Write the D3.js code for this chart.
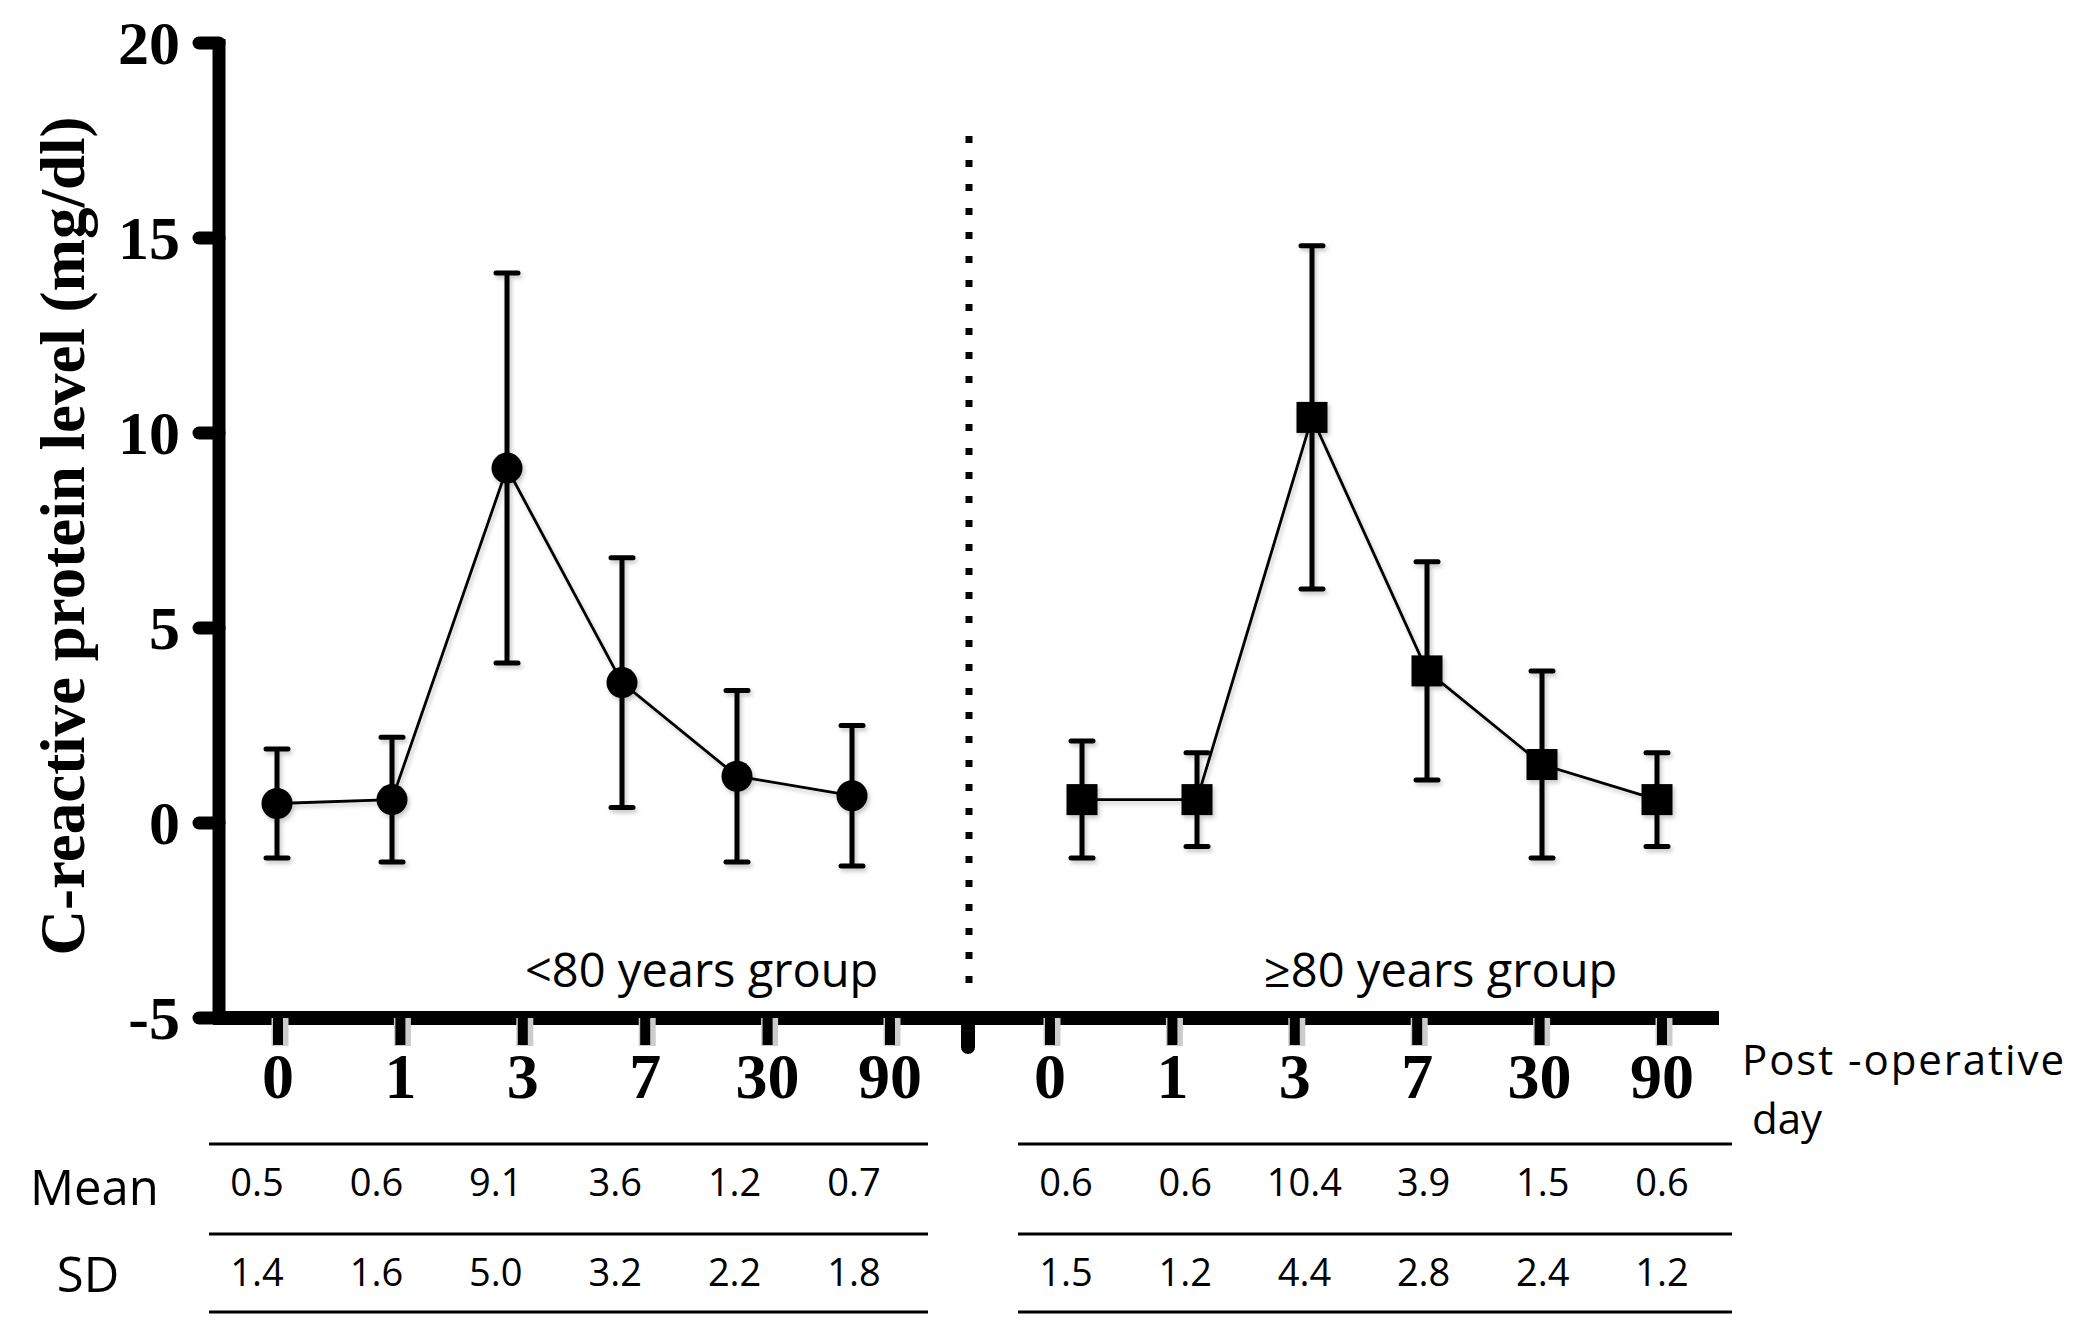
<!DOCTYPE html>
<html>
<head>
<meta charset="utf-8">
<script src="https://cdn.jsdelivr.net/npm/d3@7"></script>
<style>
  body { margin: 0; background: #fff; }
</style>
</head>
<body>
<div id="chart"></div>
<script>
// Dữ liệu
const days = ["0", "1", "3", "7", "30", "90"];
const meanUnder80 = [0.5, 0.6, 9.1, 3.6, 1.2, 0.7];
const sdUnder80 = [1.4, 1.6, 5.0, 3.2, 2.2, 1.8];
const meanOver80 = [0.6, 0.6, 10.4, 3.9, 1.5, 0.6];
const sdOver80 = [1.5, 1.2, 4.4, 2.8, 2.4, 1.2];
const yTicks = [-5, 0, 5, 10, 15, 20];

const width = 2075, height = 1331;
const serif = "'Liberation Serif', 'Times New Roman', serif";
const sans = "'Open Sans', 'Noto Sans', sans-serif";

const svg = d3.select("#chart").append("svg")
    .attr("width", width).attr("height", height);

// Bóng đổ nhẹ như hình gốc
const defs = svg.append("defs");
defs.append("filter").attr("id", "shadow")
    .attr("x", "-20%").attr("y", "-20%").attr("width", "140%").attr("height", "140%")
  .append("feDropShadow")
    .attr("dx", 2).attr("dy", 3).attr("stdDeviation", 2)
    .attr("flood-color", "#000").attr("flood-opacity", 0.22);

// Scale Y
const y = d3.scaleLinear().domain([-5, 20]).range([1018, 43]);
const axisX0 = 219, axisY = y(-5);

// Hai nhóm: vị trí điểm, vị trí tick, vị trí cột bảng
const groups = [
    { name: "<80 years group", mean: meanUnder80, sd: sdUnder80, shape: "circle",
      pt: d3.scalePoint().domain(days).range([277, 852]),
      tick: d3.scalePoint().domain(days).range([278, 890]),
      col: d3.scalePoint().domain(days).range([257, 854]),
      label: 525, table: [209, 928] },
    { name: "≥80 years group", mean: meanOver80, sd: sdOver80, shape: "square",
      pt: d3.scalePoint().domain(days).range([1082, 1657]),
      tick: d3.scalePoint().domain(days).range([1050, 1662]),
      col: d3.scalePoint().domain(days).range([1066, 1662]),
      label: 1264, table: [1018, 1732] }
];

// Trục Y
const yAxis = svg.append("g");
yAxis.append("line")
    .attr("x1", axisX0).attr("x2", axisX0)
    .attr("y1", y(20) - 4).attr("y2", axisY)
    .attr("stroke", "#000").attr("stroke-width", 13);
yAxis.selectAll(".ytick").data(yTicks).join("line")
    .attr("class", "ytick")
    .attr("x1", 199).attr("x2", axisX0)
    .attr("y1", d => y(d)).attr("y2", d => y(d))
    .attr("stroke", "#000").attr("stroke-width", 13)
    .attr("stroke-linecap", "round");
yAxis.selectAll(".ylbl").data(yTicks).join("text")
    .attr("class", "ylbl")
    .attr("x", 180).attr("y", d => y(d))
    .attr("dy", "0.34em")
    .attr("text-anchor", "end")
    .style("font-family", serif).style("font-weight", "bold").style("font-size", "62px")
    .text(d => d);

svg.append("text")
    .attr("transform", "translate(84,536) rotate(-90)")
    .attr("text-anchor", "middle")
    .style("font-family", serif).style("font-weight", "bold").style("font-size", "63px")
    .text("C-reactive protein level (mg/dl)");

// Trục X
svg.append("line")
    .attr("x1", axisX0 - 6).attr("x2", 1719)
    .attr("y1", axisY).attr("y2", axisY)
    .attr("stroke", "#000").attr("stroke-width", 14);
svg.append("line")
    .attr("x1", 968).attr("x2", 968)
    .attr("y1", axisY).attr("y2", 1047)
    .attr("stroke", "#000").attr("stroke-width", 14)
    .attr("stroke-linecap", "round");

// Đường chấm ngăn cách
svg.append("line")
    .attr("x1", 969).attr("x2", 969)
    .attr("y1", 136).attr("y2", 1000)
    .attr("stroke", "#000").attr("stroke-width", 7)
    .attr("stroke-dasharray", "7,17");

const line = d3.line();

groups.forEach(gr => {
    const g = svg.append("g");

    // Tick X và nhãn
    g.selectAll(".xtick-sh").data(days).join("line")
        .attr("x1", d => gr.tick(d) + 2).attr("x2", d => gr.tick(d) + 2)
        .attr("y1", axisY).attr("y2", 1046)
        .attr("stroke", "#ccc").attr("stroke-width", 17);
    g.selectAll(".xtick").data(days).join("line")
        .attr("x1", d => gr.tick(d)).attr("x2", d => gr.tick(d))
        .attr("y1", axisY).attr("y2", 1045)
        .attr("stroke", "#000").attr("stroke-width", 10);
    g.selectAll(".xlbl").data(days).join("text")
        .attr("x", d => gr.tick(d)).attr("y", 1098)
        .attr("text-anchor", "middle")
        .style("font-family", serif).style("font-weight", "bold").style("font-size", "64px")
        .text(d => d);

    // Nhãn nhóm
    g.append("text")
        .attr("x", gr.label).attr("y", 987)
        .style("font-family", sans).style("font-size", "47px")
        .text(gr.name);

    const pts = days.map((d, i) => ({ d, m: gr.mean[i], s: gr.sd[i] }));
    const marks = g.append("g").attr("filter", "url(#shadow)");

    // Đường nối
    marks.append("path")
        .attr("d", line(pts.map(p => [gr.pt(p.d), y(p.m)])))
        .attr("fill", "none").attr("stroke", "#000").attr("stroke-width", 2.8);

    // Thanh sai số (mean ± SD)
    marks.selectAll(".eb").data(pts).join("line")
        .attr("x1", p => gr.pt(p.d)).attr("x2", p => gr.pt(p.d))
        .attr("y1", p => y(p.m + p.s)).attr("y2", p => y(p.m - p.s))
        .attr("stroke", "#000").attr("stroke-width", 5);
    marks.selectAll(".capT").data(pts).join("line")
        .attr("x1", p => gr.pt(p.d) - 11).attr("x2", p => gr.pt(p.d) + 11)
        .attr("y1", p => y(p.m + p.s)).attr("y2", p => y(p.m + p.s))
        .attr("stroke", "#000").attr("stroke-width", 5).attr("stroke-linecap", "round");
    marks.selectAll(".capB").data(pts).join("line")
        .attr("x1", p => gr.pt(p.d) - 11).attr("x2", p => gr.pt(p.d) + 11)
        .attr("y1", p => y(p.m - p.s)).attr("y2", p => y(p.m - p.s))
        .attr("stroke", "#000").attr("stroke-width", 5).attr("stroke-linecap", "round");

    // Điểm
    if (gr.shape === "circle") {
        marks.selectAll(".pt").data(pts).join("ellipse")
            .attr("cx", p => gr.pt(p.d)).attr("cy", p => y(p.m))
            .attr("rx", 15.5).attr("ry", 15.5).attr("fill", "#000");
    } else {
        marks.selectAll(".pt").data(pts).join("rect")
            .attr("x", p => gr.pt(p.d) - 15.5).attr("y", p => y(p.m) - 15.5)
            .attr("width", 31).attr("height", 31).attr("fill", "#000");
    }

    // Bảng Mean / SD
    [1144, 1234, 1312].forEach(ly => {
        g.append("line")
            .attr("x1", gr.table[0]).attr("x2", gr.table[1])
            .attr("y1", ly).attr("y2", ly)
            .attr("stroke", "#000").attr("stroke-width", 3);
    });
    g.selectAll(".mv").data(pts).join("text")
        .attr("x", p => gr.col(p.d)).attr("y", 1196)
        .attr("text-anchor", "middle")
        .style("font-family", sans).style("font-size", "38px")
        .text(p => p.m.toFixed(1));
    g.selectAll(".sv").data(pts).join("text")
        .attr("x", p => gr.col(p.d)).attr("y", 1286)
        .attr("text-anchor", "middle")
        .style("font-family", sans).style("font-size", "38px")
        .text(p => p.s.toFixed(1));
});

// Nhãn hàng của bảng
svg.append("text").attr("x", 30).attr("y", 1205)
    .style("font-family", sans).style("font-size", "49px").text("Mean");
svg.append("text").attr("x", 88).attr("y", 1292).attr("text-anchor", "middle")
    .style("font-family", sans).style("font-size", "49px").text("SD");

// Nhãn trục X
svg.append("text").attr("x", 1742).attr("y", 1075)
    .attr("textLength", 322).attr("lengthAdjust", "spacing")
    .style("font-family", sans).style("font-size", "42px").text("Post -operative");
svg.append("text").attr("x", 1752).attr("y", 1134)
    .style("font-family", sans).style("font-size", "42px").text("day");
</script>
</body>
</html>
